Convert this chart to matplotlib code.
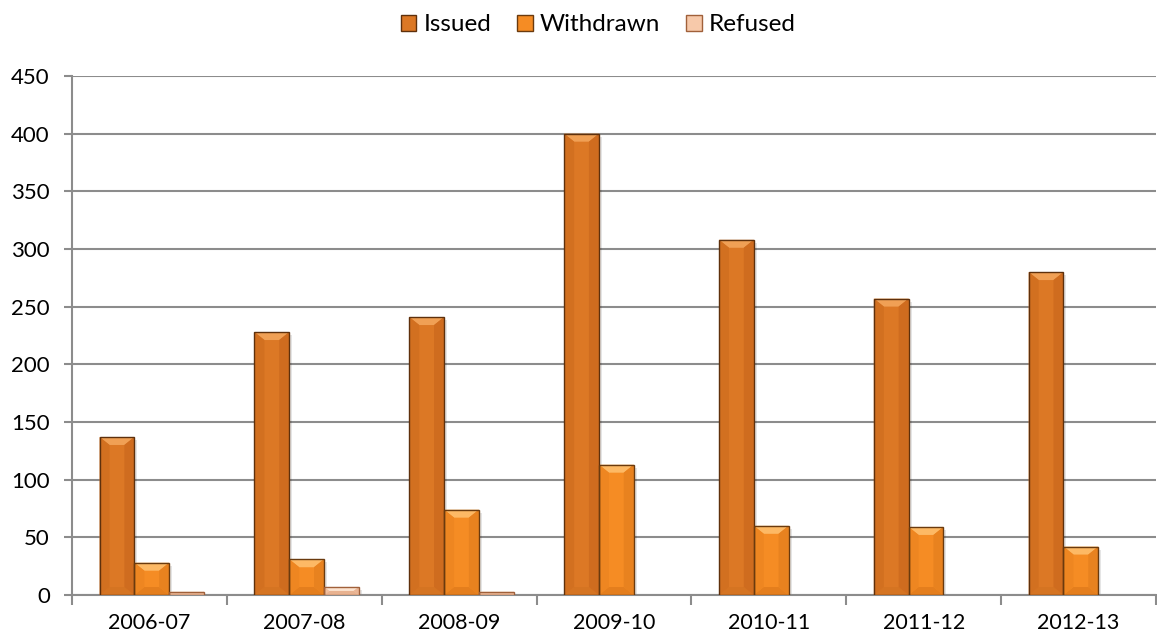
import matplotlib
matplotlib.use("Agg")
import matplotlib.pyplot as plt
from matplotlib.patches import Polygon, Patch
import numpy as np

years = ["2006-07", "2007-08", "2008-09", "2009-10", "2010-11", "2011-12", "2012-13"]
issued = [137, 228, 241, 400, 308, 257, 280]
withdrawn = [28, 31, 74, 113, 60, 59, 42]
refused = [3, 7, 3, 0, 0, 0, 0]

series = [
    # name, values, face, top facet, left facet, right facet, bottom facet, edge
    ("Issued", issued, "#DC7825", "#F0A055", "#D27020", "#CF6C1F", "#D57422", "#5E300C"),
    ("Withdrawn", withdrawn, "#F58C24", "#FDB965", "#EE8621", "#E8821F", "#E47E1D", "#6A3A0E"),
    ("Refused", refused, "#F7C9AA", "#FCE3D0", "#F0BE9E", "#EAB595", "#E8B290", "#A0603A"),
]

plt.rcParams['font.family'] = ['Lato', 'DejaVu Sans']

fig = plt.figure(figsize=(11.57, 6.39), dpi=100)
ax_left, ax_right = 72 / 1157, 1156 / 1157
ax_bottom, ax_top = (639 - 595) / 639, (639 - 76) / 639
ax = fig.add_axes([ax_left, ax_bottom, ax_right - ax_left, ax_top - ax_bottom])

ax.set_xlim(-0.5, 6.5)
ax.set_ylim(0, 450)

# pixel scale, used to size the bevel facets
px_x = (ax_right - ax_left) * 1157 / 7.0
px_y = (ax_top - ax_bottom) * 639 / 450.0

n = len(series)
width = 1 / (n + 1.45)
x = np.arange(len(years))


def bevel_bar(xc, h, face, top, left, right, bottom, edge):
    if h <= 0:
        return
    x0, x1 = xc - width / 2, xc + width / 2
    by = min(8 / px_y, h / 2)
    bx = min(10 / px_x, by * px_y / px_x * 1.3)
    # soft shadow
    ax.add_patch(Polygon([(x0 + 3 / px_x, 0), (x1 + 3 / px_x, 0),
                          (x1 + 3 / px_x, h - 3 / px_y), (x0 + 3 / px_x, h - 3 / px_y)],
                         closed=True, facecolor="#000000", alpha=0.10, lw=0, zorder=2))
    ax.bar(xc, h, width, color=face, edgecolor="none", zorder=3)
    xi0, xi1 = x0 + bx, x1 - bx
    yi0, yi1 = by, h - by
    facets = [
        ([(x0, h), (x1, h), (xi1, yi1), (xi0, yi1)], top),
        ([(x0, 0), (x1, 0), (xi1, yi0), (xi0, yi0)], bottom),
        ([(x0, 0), (x0, h), (xi0, yi1), (xi0, yi0)], left),
        ([(x1, 0), (x1, h), (xi1, yi1), (xi1, yi0)], right),
    ]
    for pts, c in facets:
        ax.add_patch(Polygon(pts, closed=True, facecolor=c, edgecolor="none", zorder=4))
    ax.add_patch(Polygon([(x0, 0), (x0, h), (x1, h), (x1, 0)], closed=True,
                         facecolor="none", edgecolor=edge, lw=1.0, zorder=5))


for i, (name, vals, face, top, left, right, bottom, edge) in enumerate(series):
    offs = (i - (n - 1) / 2) * width + 0.015
    for xc, v in zip(x + offs, vals):
        bevel_bar(xc, v, face, top, left, right, bottom, edge)

ax.set_yticks(np.arange(0, 451, 50))
ax.yaxis.grid(True, color="#8C8C8C", lw=1.5)
ax.set_axisbelow(True)

ax.set_xticks(x)
ax.set_xticklabels(years)
ax.set_xticks(np.arange(-0.5, 6.6, 1), minor=True)
ax.tick_params(axis="x", which="major", length=0, pad=13, labelsize=15.5)
ax.tick_params(axis="x", which="minor", length=7, width=1.5, color="#8C8C8C", direction="out")
ax.tick_params(axis="y", length=6, width=1.5, color="#8C8C8C", pad=10, labelsize=16)

for s in ["top", "right"]:
    ax.spines[s].set_visible(False)
for s in ["left", "bottom"]:
    ax.spines[s].set_color("#8C8C8C")
    ax.spines[s].set_linewidth(1.5)

handles = [Patch(facecolor=s[2], edgecolor=s[7], lw=1) for s in series]
fig.legend(handles, [s[0] for s in series], loc="upper center", ncol=3,
           bbox_to_anchor=(0.517, 1.012), frameon=False, fontsize=17.5,
           handlelength=0.65, handleheight=0.65, handletextpad=0.3, columnspacing=1.05)

fig.savefig("out.png", dpi=100)
